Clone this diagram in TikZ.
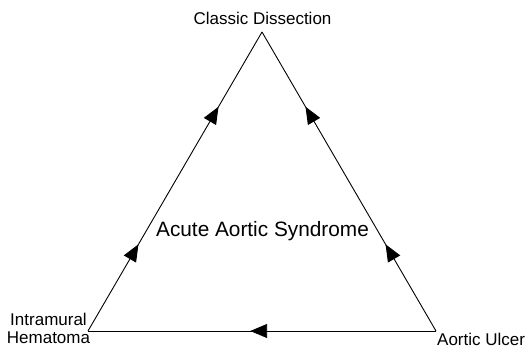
\documentclass[tikz,border=0pt]{standalone}
\usepackage{fontspec}
\setmainfont{Liberation Sans}
\usetikzlibrary{arrows.meta,decorations.markings}
\begin{document}
\begin{tikzpicture}[x=1pt,y=-1pt,
  side/.style={line width=0.9pt,draw=black},
  lbl/.style={inner sep=0pt,font=\fontsize{17}{18}\selectfont},
  tri/.tip={Triangle[length=17pt,width=14pt]},
  twoarrows/.style={postaction={decorate},decoration={markings,
     mark=at position 0.29 with {\arrow{tri}},
     mark=at position 0.75 with {\arrow{tri}}}},
  onearrow/.style={postaction={decorate},decoration={markings,
     mark=at position 0.534 with {\arrow{tri}}}}]
\useasboundingbox (0,0) rectangle (527,363);
\coordinate (top) at (262,32);
\coordinate (left) at (88,331);
\coordinate (right) at (436,331);
\node[lbl,anchor=base] (cd) at (262.5,25) {Classic Dissection};
\node[lbl,anchor=base west] (au) at (437,345) {Aortic Ulcer};
\node[lbl,anchor=base,align=center] (ih) at (48.5,343) {Intramural\\Hematoma};
\node[inner sep=0pt,font=\fontsize{20.8}{22}\selectfont,anchor=base] (aas) at (262.5,237) {Acute Aortic Syndrome};
\draw[side,twoarrows] (left) -- (top);
\draw[side,twoarrows] (right) -- (top);
\draw[side,onearrow] (right) -- (left);
\end{tikzpicture}
\end{document}
